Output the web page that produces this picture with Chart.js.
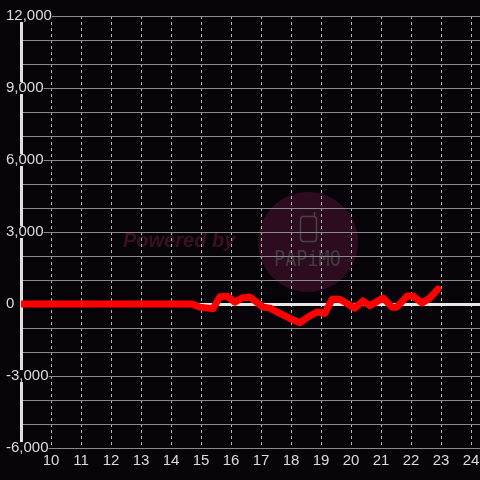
<!DOCTYPE html>
<html>
<head>
<meta charset="utf-8">
<script src="https://cdn.jsdelivr.net/npm/chart.js@4"></script>
<style>
  html, body { margin: 0; padding: 0; background: #060408; }
  #wrap { width: 480px; height: 480px; }
</style>
</head>
<body>
<div id="wrap"><canvas id="chart"></canvas></div>
<script>
// hour of day and value at that time
const hours = [9, 14.7, 14.97, 15.4, 15.63, 15.87, 16.13, 16.37, 16.63, 17.07, 17.3, 17.63, 17.97, 18.3,
  18.57, 18.87, 19.13, 19.37, 19.63, 20.13, 20.4, 20.63, 21.07, 21.37, 21.53, 21.87, 22.07, 22.37, 22.63, 22.9];
const values = [0, 0, -130, -200, 300, 330, 80, 250, 290, -130, -170, -390, -600, -780,
  -540, -330, -390, 200, 200, -170, 130, -70, 250, -130, -130, 330, 330, 40, 250, 620];
const xTicks = [10, 11, 12, 13, 14, 15, 16, 17, 18, 19, 20, 21, 22, 23, 24];
const yLabelStep = 3000;

const bg = "#060408";

// background plus the faint watermark under the grid
const watermark = {
    id: "watermark",
    beforeDraw(chart) {
        const ctx = chart.ctx;
        ctx.save();
        ctx.fillStyle = bg;
        ctx.fillRect(0, 0, chart.width, chart.height);

        ctx.fillStyle = "#2e0c20";
        ctx.beginPath();
        ctx.arc(308, 242, 50, 0, Math.PI * 2);
        ctx.fill();

        ctx.font = "italic bold 20px 'Liberation Sans', Arial, sans-serif";
        ctx.fillStyle = "#3b0f24";
        ctx.textBaseline = "alphabetic";
        ctx.fillText("Powered by", 123, 247);

        // phone icon
        ctx.strokeStyle = "#444";
        ctx.lineWidth = 1.5;
        ctx.beginPath();
        ctx.roundRect(300.5, 216.5, 16, 25, 3);
        ctx.stroke();
        ctx.beginPath();
        ctx.moveTo(314.5, 216.5);
        ctx.lineTo(314.5, 212);
        ctx.stroke();

        ctx.translate(274, 266);
        ctx.scale(0.88, 1);
        ctx.font = "21px 'DejaVu Sans Mono', monospace";
        ctx.fillStyle = "#3e3e3e";
        ctx.fillText("PAPiMO", 0, 0);
        ctx.restore();
    }
};

new Chart(document.getElementById("chart"), {
    type: "line",
    data: {
        datasets: [{
            data: hours.map((h, i) => ({ x: h, y: values[i] })),
            borderColor: "#ff0000",
            borderWidth: 7,
            borderJoinStyle: "round",
            borderCapStyle: "round",
            pointRadius: 0,
            tension: 0,
        }],
    },
    options: {
        responsive: true,
        maintainAspectRatio: false,
        animation: false,
        layout: { padding: { left: 6, top: 16, right: 0, bottom: 6 } },
        plugins: { legend: { display: false }, tooltip: { enabled: false } },
        scales: {
            x: {
                type: "linear",
                min: 9,
                max: 24.3,
                afterBuildTicks: (scale) => {
                    scale.ticks = xTicks.map((v) => ({ value: v }));
                },
                ticks: {
                    color: "#dddddd",
                    padding: 0,
                    font: { size: 15, family: "'Liberation Sans', Arial, sans-serif", lineHeight: 1.73 },
                    callback: (v) => String(v),
                },
                grid: { color: "#b4b4b4", lineWidth: 1, drawTicks: false },
                border: { display: false, dash: [3, 3] },
            },
            y: {
                min: -6000,
                max: 12000,
                afterFit: (scale) => { scale.width = 15; },
                ticks: {
                    stepSize: 1000,
                    color: "#dddddd",
                    mirror: true,
                    crossAlign: "near",
                    padding: -15,
                    z: 1,
                    showLabelBackdrop: true,
                    backdropColor: bg,
                    backdropPadding: 0,
                    font: { size: 15, family: "'Liberation Sans', Arial, sans-serif", lineHeight: 0.8 },
                    callback: (v) => (v % yLabelStep === 0 ? v.toLocaleString("en-US") : ""),
                },
                grid: {
                    drawTicks: false,
                    color: (c) => (c.tick && c.tick.value === 0 ? "#e8e8e8" : "#8a8a8a"),
                    lineWidth: (c) => (c.tick && c.tick.value === 0 ? 3 : 1),
                },
                border: { display: true, color: "#e0e0e0", width: 3 },
            },
        },
    },
    plugins: [watermark],
});
</script>
</body>
</html>
